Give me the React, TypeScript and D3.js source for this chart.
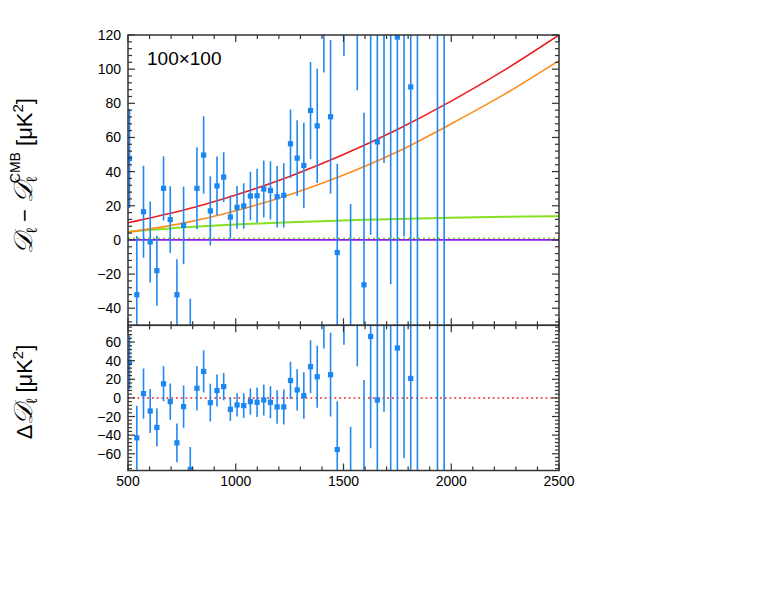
import React from "react";
import * as d3 from "d3";

// ---- data ----
const ell = [507, 541, 572, 603, 634, 665, 696, 727, 758, 789, 820, 851, 882, 913, 944, 975, 1006, 1037, 1068, 1099, 1130, 1161, 1192, 1223, 1254, 1285, 1316, 1347, 1378, 1409, 1440, 1471, 1502, 1533, 1564, 1595, 1626, 1657, 1688, 1719, 1750, 1781, 1812, 1843, 1936, 1967];
const deltaDl = [47.7, -32.1, 16.5, -1.2, -18, 30.2, 11.9, -32.1, 8.5, -58.4, 30.2, 49.7, 17, 31.6, 36.8, 13.4, 19.1, 19.9, 25.7, 25.9, 29.8, 29, 25.3, 26.1, 56.3, 47.9, 43.6, 75.8, 66.8, 138, 72.1, -7.4, 167.5, -59, 177.7, -26.3, 123, 57.4, 185, 150, 118.8, 192, 89.6, 210, -200, 250];
const errs = [29, 34.4, 27, 23.7, 20.5, 18.8, 19.5, 20.8, 22.8, 24, 24, 22.7, 20.3, 17.2, 14.6, 12.6, 12.5, 13.3, 14.2, 15.8, 16.7, 17.1, 18, 18.8, 20.1, 22.2, 25, 28.4, 33.4, 40, 45, 52, 60, 80, 90, 100.7, 120, 130, 140, 176, 180, 190, 200, 280, 380, 330];
const resid = [38.2, -42.9, 4.6, -14.1, -31.7, 15.1, -4, -48.3, -9.4, -76.8, 10.4, 28.4, -5.1, 7.9, 12.2, -12.3, -7.6, -8.3, -4, -4.7, -2.2, -4.7, -9.7, -9.7, 18.7, 8.6, 2.5, 33.5, 22.7, 93, 24.9, -55.5, 117, -111, 124, -81.6, 66, -2.2, 125, 87, 53.6, 125.5, 20.9, 138, -276, 172];

const curveEll = [500, 750, 1000, 1250, 1500, 1750, 2000, 2250, 2500];
const redModel = [10, 17.2, 26.3, 37.2, 50, 64.7, 81.3, 99.7, 120];
const orangeModel = [4.5, 9.7, 17.1, 26.5, 38, 51.6, 68, 85.5, 105];
const greenModel = [4.8, 7.3, 9.1, 10.4, 11.4, 12.3, 13, 13.5, 13.9];
const zeroModel = [0, 0, 0, 0, 0, 0, 0, 0, 0];

const xMajor = [500, 1000, 1500, 2000, 2500];
const topMajor = [-40, -20, 0, 20, 40, 60, 80, 100, 120];
const botMajor = [-60, -40, -20, 0, 20, 40, 60];

const W = 772, H = 597;
const X0 = 128, X1 = 559;
const TOP0 = 35, MID = 325.3, BOT1 = 470.5;

const x = d3.scaleLinear().domain([500, 2500]).range([X0, X1]);
const yTop = d3.scaleLinear().domain([-50, 120]).range([MID, TOP0]);
const yBot = d3.scaleLinear().domain([-78, 78]).range([BOT1, MID]);

const xMinor = d3.range(500, 2501, 100);
const topMinor = d3.range(-48, 121, 4);
const botMinor = d3.range(-76, 77, 4);

const AX = "#333333";
const PT = "#1a86f2";
const BAR = "#2288f0";
const fmt = d3.format("d");
const NB = "\u00A0";

function Frame({ y, yMajor, yMinor, y0, y1, topTicks }: any) {
  const els: any[] = [];
  const MJ = 7, MN = 4;
  xMinor.forEach((v, i) => {
    const L = xMajor.includes(v) ? MJ : MN;
    els.push(<line key={"xb" + i} x1={x(v)} x2={x(v)} y1={y1} y2={y1 - L} stroke={AX} strokeWidth={1.2} />);
    if (topTicks) els.push(<line key={"xt" + i} x1={x(v)} x2={x(v)} y1={y0} y2={y0 + L} stroke={AX} strokeWidth={1.2} />);
  });
  yMinor.forEach((v: number, i: number) => {
    const L = yMajor.includes(v) ? MJ : MN;
    els.push(<line key={"yl" + i} x1={X0} x2={X0 + L} y1={y(v)} y2={y(v)} stroke={AX} strokeWidth={1.2} />);
    els.push(<line key={"yr" + i} x1={X1} x2={X1 - L} y1={y(v)} y2={y(v)} stroke={AX} strokeWidth={1.2} />);
  });
  return <g>{els}</g>;
}

function Points({ y, vals, clip }: any) {
  return (
    <g clipPath={`url(#${clip})`}>
      {ell.map((l, i) => (
        <line key={"e" + i} x1={x(l)} x2={x(l)} y1={y(vals[i] - errs[i])} y2={y(vals[i] + errs[i])} stroke={BAR} strokeWidth={1.6} />
      ))}
      {ell.map((l, i) => (
        <rect key={"p" + i} x={x(l) - 2.6} y={y(vals[i]) - 2.6} width={5.2} height={5.2} fill={PT} />
      ))}
    </g>
  );
}

export default function App() {
  const lineTop = (arr: number[]) =>
    d3.line<number>().x((_, i) => x(curveEll[i])).y((d) => yTop(d)).curve(d3.curveNatural)(arr) || "";
  const font = "'Liberation Sans', Arial, Helvetica, sans-serif";
  return (
    <svg width={W} height={H} style={{ position: "absolute", left: 0, top: 0, background: "#fff" }} fontFamily={font}>
      <defs>
        <clipPath id="cTop"><rect x={X0} y={TOP0} width={X1 - X0} height={MID - TOP0} /></clipPath>
        <clipPath id="cBot"><rect x={X0} y={MID} width={X1 - X0} height={BOT1 - MID} /></clipPath>
      </defs>

      {/* top panel */}
      <g clipPath="url(#cTop)">
        <path d={lineTop(zeroModel)} fill="none" stroke="#88dd22" strokeWidth={2} strokeDasharray="2 3" transform="translate(0,-1.3)" />
        <path d={lineTop(zeroModel)} fill="none" stroke="#8a1cf0" strokeWidth={1.8} />
        <path d={lineTop(greenModel)} fill="none" stroke="#88e022" strokeWidth={2} />
        <path d={lineTop(orangeModel)} fill="none" stroke="#ff8c1a" strokeWidth={1.6} />
        <path d={lineTop(redModel)} fill="none" stroke="#ee1c1c" strokeWidth={1.6} />
      </g>
      <Points y={yTop} vals={deltaDl} clip="cTop" />

      {/* bottom panel */}
      <line x1={X0} x2={X1} y1={yBot(0)} y2={yBot(0)} stroke="#ee2222" strokeWidth={1.5} strokeDasharray="1.8 3" />
      <Points y={yBot} vals={resid} clip="cBot" />

      {/* frames */}
      <Frame y={yTop} yMajor={topMajor} yMinor={topMinor} y0={TOP0} y1={MID} topTicks={true} />
      <Frame y={yBot} yMajor={botMajor} yMinor={botMinor} y0={MID} y1={BOT1} topTicks={true} />
      <rect x={X0} y={TOP0} width={X1 - X0} height={MID - TOP0} fill="none" stroke={AX} strokeWidth={1.5} />
      <rect x={X0} y={MID} width={X1 - X0} height={BOT1 - MID} fill="none" stroke={AX} strokeWidth={1.5} />

      {/* tick labels */}
      {topMajor.map((v) => (
        <text key={"tl" + v} x={121} y={yTop(v)} dy="0.36em" textAnchor="end" fontSize={14}>{fmt(v)}</text>
      ))}
      {botMajor.map((v) => (
        <text key={"bl" + v} x={121} y={yBot(v)} dy="0.36em" textAnchor="end" fontSize={14}>{fmt(v)}</text>
      ))}
      {xMajor.map((v) => (
        <text key={"xl" + v} x={x(v)} y={486} textAnchor="middle" fontSize={14}>{fmt(v)}</text>
      ))}

      <text x={147} y={65} fontSize={19}>100×100</text>

      {/* y labels */}
      <text transform="translate(32,176) rotate(-90)" textAnchor="middle" fontSize={22}>
        <tspan fontStyle="italic" fontSize={26}>𝒟</tspan>
        <tspan fontSize={15} dy={5}>ℓ</tspan>
        <tspan dy={-5}>{NB + "−" + NB}</tspan>
        <tspan fontStyle="italic" fontSize={26}>𝒟</tspan>
        <tspan fontSize={15} dy={5}>ℓ</tspan>
        <tspan fontSize={14} dx={-6} dy={-17}>CMB</tspan>
        <tspan dy={12}>{NB + "[μK"}</tspan>
        <tspan fontSize={15} dy={-9}>2</tspan>
        <tspan dy={9}>]</tspan>
      </text>
      <text transform="translate(32,392) rotate(-90)" textAnchor="middle" fontSize={22}>
        <tspan>Δ</tspan>
        <tspan fontStyle="italic" fontSize={26}>𝒟</tspan>
        <tspan fontSize={15} dy={5}>ℓ</tspan>
        <tspan dy={-5}>{NB + "[μK"}</tspan>
        <tspan fontSize={15} dy={-9}>2</tspan>
        <tspan dy={9}>]</tspan>
      </text>
    </svg>
  );
}
